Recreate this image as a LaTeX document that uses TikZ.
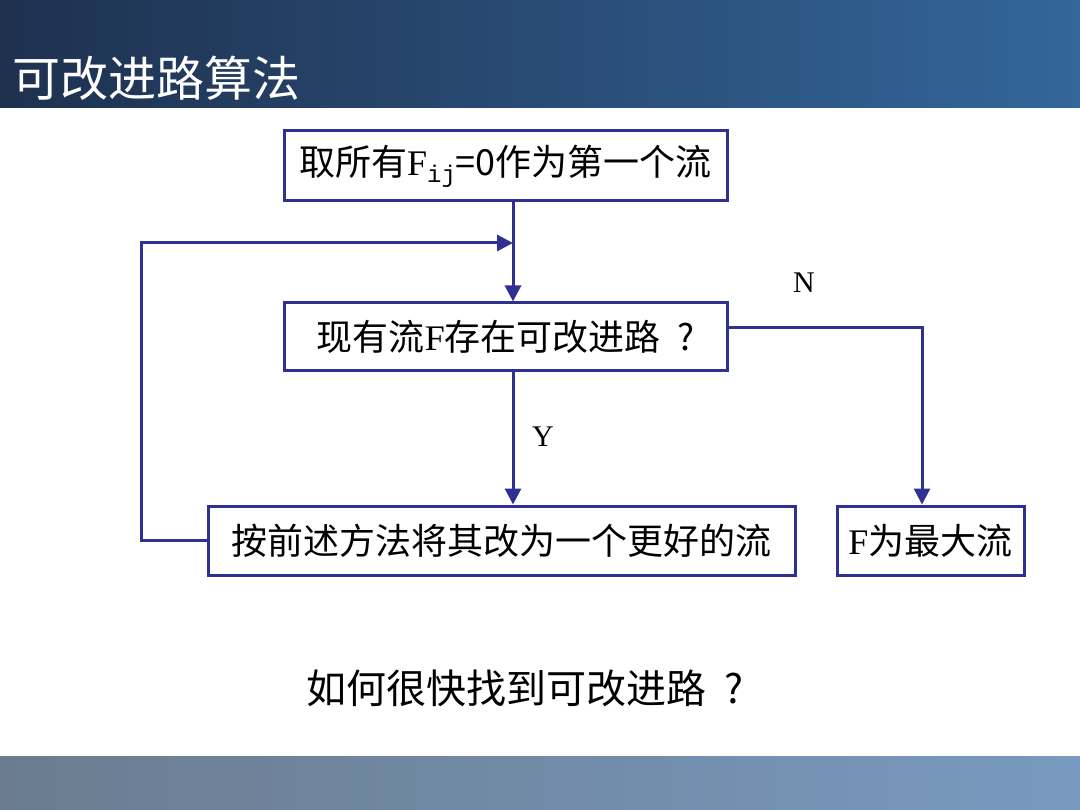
\documentclass[tikz,border=0pt]{standalone}
\usepackage{fontspec}
\setmainfont{Liberation Serif}
\newfontfamily\cjk{Noto Sans CJK SC}
\newfontfamily\monoij{Liberation Mono}
\usetikzlibrary{arrows.meta}
\definecolor{flowline}{RGB}{46,49,146}
\definecolor{barleft}{RGB}{30,49,79}
\definecolor{barright}{RGB}{51,102,154}
\definecolor{footleft}{RGB}{107,124,143}
\definecolor{footright}{RGB}{120,154,192}
% spaced question mark after CJK text
\newcommand{\spacedq}{\hspace{0.45em}?}
\begin{document}
\begin{tikzpicture}[x=1pt,y=-1pt,
  flowbox/.style={draw=flowline,line width=3pt,fill=white,inner sep=0pt,
    font=\cjk\fontsize{36}{40}\selectfont},
  flowarrow/.style={draw=flowline,line width=3pt,
    -{Triangle[length=16pt,width=16pt]}},
  flowlabel/.style={font=\fontsize{30}{34}\selectfont}]
\useasboundingbox (0,0) rectangle (1080,810);
% header and footer bands
\shade[left color=barleft,right color=barright] (0,0) rectangle (1080,108);
\shade[left color=footleft,right color=footright] (0,756) rectangle (1080,810);
\node[anchor=west,text=white,inner sep=0pt,font=\cjk\fontsize{48}{52}\selectfont] (title) at (12,78) {可改进路算法};
% process boxes
\node[flowbox,minimum width=443pt,minimum height=70pt] (init) at (505.5,166)
  {取所有{\rmfamily F}\raisebox{-0.35ex}{\monoij\fontsize{24}{26}\selectfont ij}=0作为第一个流};
\node[flowbox,minimum width=443pt,minimum height=68pt] (test) at (505.5,337)
  {现有流{\rmfamily F}存在可改进路\spacedq};
\node[flowbox,minimum width=587pt,minimum height=69pt] (improve) at (501.5,540.5)
  {按前述方法将其改为一个更好的流};
\node[flowbox,minimum width=187pt,minimum height=69pt] (done) at (930.5,540.5)
  {{\rmfamily F}为最大流};
% guide coordinates for the connectors
\coordinate (mainx) at (513,0);
\coordinate (loopx) at (141,0);
\coordinate (loopin) at (513,243);
\coordinate (nexit) at (0,328);
\coordinate (nx) at (922,0);
% connectors
\draw[flowarrow] (init.south -| mainx) -- (test.north -| mainx);
\draw[flowarrow] (improve.west) -| (loopx |- loopin) -- (loopin);
\draw[flowarrow] (test.south -| mainx) -- (improve.north -| mainx);
\draw[flowarrow] (test.east |- nexit) -| (done.north -| nx);
\node[flowlabel] (ylab) at (543,437) {Y};
\node[flowlabel] (nlab) at (804,283) {N};
% closing question
\node[font=\cjk\fontsize{40}{44}\selectfont] (question) at (525,688) {如何很快找到可改进路\spacedq};
\end{tikzpicture}
\end{document}
